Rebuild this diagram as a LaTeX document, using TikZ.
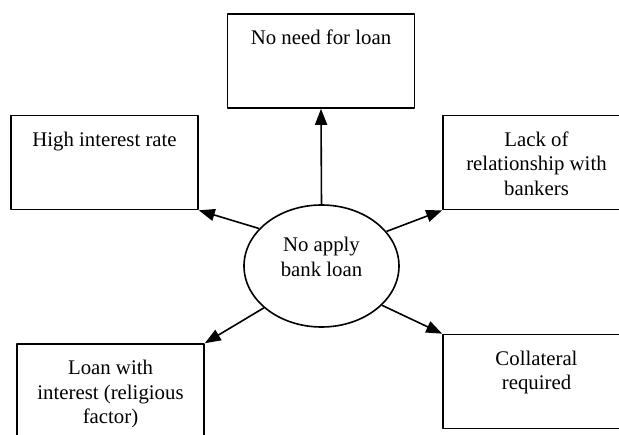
\documentclass[tikz,border=0pt]{standalone}
\usepackage{fontspec}
\setmainfont{Liberation Serif}
\usetikzlibrary{arrows.meta,shapes.geometric}
\tikzset{
  causebox/.style={draw,line width=1.2pt,minimum width=140.25pt,minimum height=70.5pt,inner sep=0pt},
  boxtext/.style={anchor=north,yshift=-12.5pt,align=center,inner sep=0pt},
  reason/.style={draw,ellipse,line width=1.2pt,minimum width=116.25pt,minimum height=91.5pt,inner sep=0pt}
}
\begin{document}
\begin{tikzpicture}[x=0.75pt,y=-0.75pt,>={Triangle[length=12pt,width=9pt]},line join=round,font=\fontsize{15.6}{18.4}\selectfont]
	\useasboundingbox (0,0) rectangle (619,435);
	\clip (0,0) rectangle (619,435);
	\node[causebox,label={[boxtext]north:No need for loan}] (need) at (321,61) {};
	\node[causebox,label={[boxtext]north:High interest rate}] (rate) at (104.5,162.5) {};
	\node[causebox,label={[boxtext]north:Lack of\\relationship with\\bankers}] (lack) at (536.5,162.5) {};
	\node[causebox,label={[boxtext]north:Loan with\\interest (religious\\factor)}] (religion) at (110.5,391) {};
	\node[causebox,label={[boxtext]north:Collateral\\required}] (collateral) at (536.5,381.5) {};
	\node[reason,label={[align=center,anchor=center,yshift=7pt]center:No apply\\bank loan}] (noapply) at (321.5,266) {};
	% arrows out of the ellipse
	\draw[->,line width=1.2pt] (noapply.north) -- (need.south);
	\draw[->,line width=1.2pt] (noapply.149.5) -- (rate.south east);
	\draw[->,line width=1.2pt] (noapply.28.5) -- (lack.south west);
	\draw[->,line width=1.2pt] (noapply.216.5) -- (religion.north east);
	\draw[->,line width=1.2pt] (noapply.327.7) -- (collateral.north west);
\end{tikzpicture}
\end{document}
